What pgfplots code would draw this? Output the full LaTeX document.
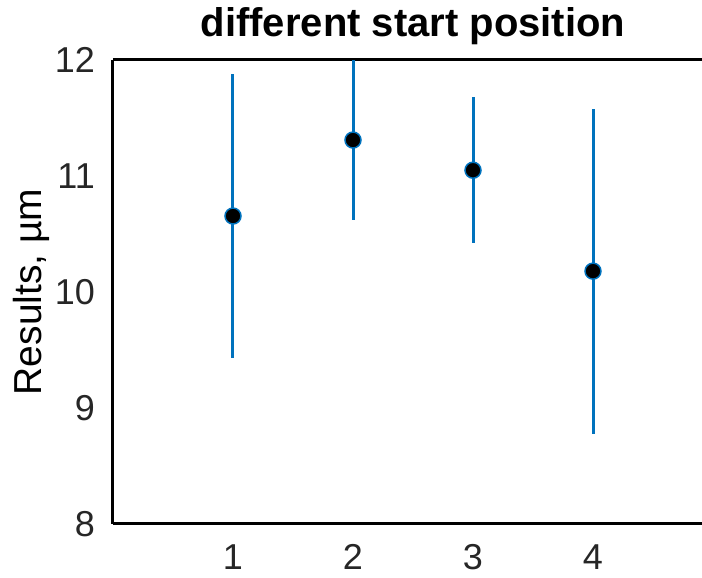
\documentclass[border=0pt]{standalone}
\usepackage{fontspec}
\setmainfont{Liberation Sans}
\usepackage{pgfplots}
\pgfplotsset{compat=1.18}
\definecolor{mblue}{RGB}{0,114,189}
\begin{document}
\begin{tikzpicture}
\clip (-113pt,-54pt) rectangle (589pt,524pt);
\useasboundingbox (-113pt,-54pt) rectangle (589pt,524pt);
\begin{axis}[
  at={(0,0)}, anchor=south west,
  scale only axis, width=600pt, height=464pt,
  xmin=0, xmax=5, ymin=8, ymax=12,
  xtick={1,2,3,4}, ytick={8,9,10,11,12},
  axis x line*=box, axis y line*=left,
  major tick length=0pt,
  axis line style={line width=3pt, -},
  tick label style={font=\fontsize{36}{36}\selectfont, text=black!85},
  /pgf/number format/assume math mode=true,
  yticklabel style={anchor=east, inner sep=0pt, xshift=-18pt},
  xticklabel style={anchor=base, inner sep=0pt, yshift=-46pt},
  ylabel={Results, µm},
  ylabel style={font=\fontsize{39}{39}\selectfont, at={(axis description cs:0,0.5)}, anchor=base, inner sep=0pt, yshift=71pt},
  title={different start position},
  title style={font=\bfseries\fontsize{40}{40}\selectfont, at={(axis description cs:0.5,1)}, anchor=base, inner sep=0pt, yshift=17pt},
  clip=true,
]
\addplot[only marks, mark=*, mark size=8pt, mark options={fill=black, draw=mblue, line width=1.5pt},
  error bars/.cd, y dir=both, y explicit, error mark=none,
  error bar style={line width=3pt, mblue}]
  coordinates {
    (1,10.655) +- (0,1.225)
    (2,11.31) +- (0,0.69)
    (3,11.05) +- (0,0.63)
    (4,10.18) +- (0,1.40)
  };
\end{axis}
\end{tikzpicture}
\end{document}
